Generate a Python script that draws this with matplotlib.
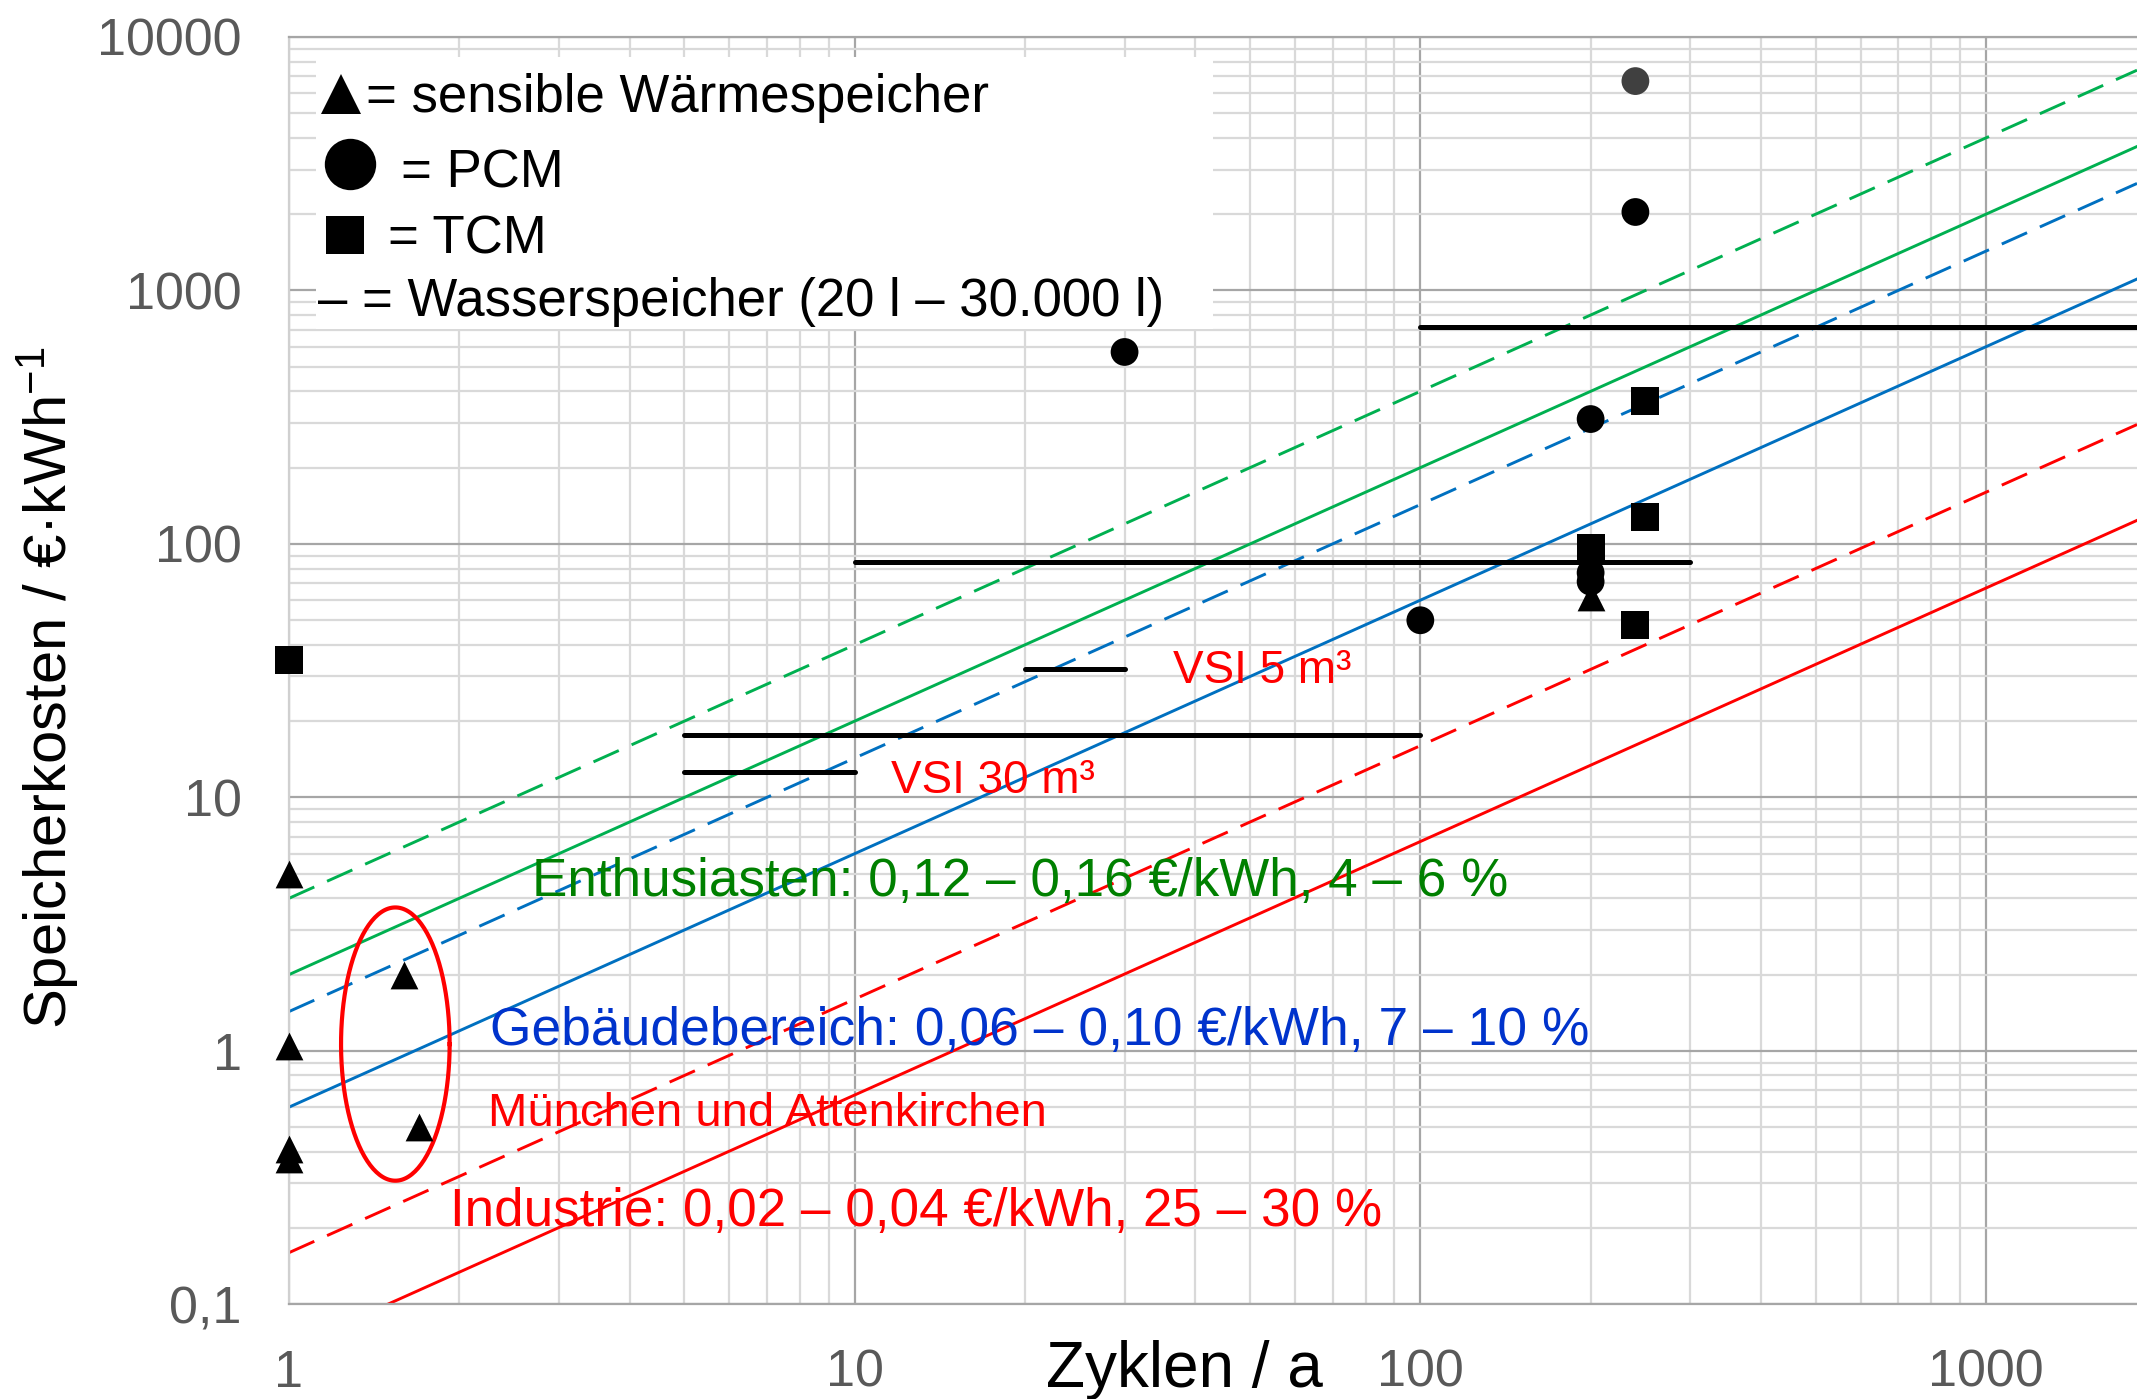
import numpy as np
import matplotlib
matplotlib.use("Agg")
import matplotlib.pyplot as plt
from matplotlib.ticker import LogLocator, FixedLocator, FixedFormatter, NullFormatter
from matplotlib.patches import Rectangle

plt.rcParams['font.family'] = ['Liberation Sans', 'DejaVu Sans']
plt.rcParams['mathtext.default'] = 'regular'

# ---- Daten ----
XMAX = 1849.0

# sensible Wärmespeicher (Dreiecke)
tri_x = [1, 1, 1, 1, 1.6, 1.7, 200]
tri_y = [5.0, 1.05, 0.41, 0.375, 2.0, 0.5, 62]

# PCM (Kreise)
pcm_x = [240, 240, 30, 200, 100, 200, 200]
pcm_y = [6700, 2040, 572, 311, 50, 77, 71]
pcm_c = ['#404040', 'black', 'black', 'black', 'black', 'black', 'black']

# TCM (Quadrate)
tcm_x = [1, 250, 250, 200, 240]
tcm_y = [35, 366, 128, 96, 48]

# Wasserspeicher (horizontale Linien)
ws_x0 = [100, 10, 20, 5, 5]
ws_x1 = [2000, 300, 30, 100, 10]
ws_y = [718, 85, 32, 17.7, 12.6]

# Kostenlinien: Wert bei 1 Zyklus
cost_a = [4.0, 2.0, 1.43, 0.6, 0.16, 0.067]
cost_col = ['#00B050', '#00B050', '#0070C0', '#0070C0', '#FF0000', '#FF0000']
cost_ls = ['--', '-', '--', '-', '--', '-']

xticks = [1, 10, 100, 1000]
xtick_labels = ['1', '10', '100', '1000']
yticks = [0.1, 1, 10, 100, 1000, 10000]
ytick_labels = ['0,1', '1', '10', '100', '1000', '10000']

W, H = 2137, 1399
fig = plt.figure(figsize=(W / 100, H / 100), dpi=100)
ax = fig.add_axes([289 / W, 1 - 1304.4 / H, 1848 / W, 1267.4 / H])
ax.set_xscale('log')
ax.set_yscale('log')
ax.set_xlim(1, XMAX)
ax.set_ylim(0.1, 10000)

ax.xaxis.set_major_locator(FixedLocator(xticks))
ax.xaxis.set_major_formatter(FixedFormatter(xtick_labels))
ax.yaxis.set_major_locator(FixedLocator(yticks))
ax.yaxis.set_major_formatter(FixedFormatter(ytick_labels))
for axis in (ax.xaxis, ax.yaxis):
    axis.set_minor_locator(LogLocator(base=10, subs=np.arange(2, 10)))
    axis.set_minor_formatter(NullFormatter())

ax.set_axisbelow(True)
ax.grid(which='major', color='#a6a6a6', lw=1.6)
ax.grid(which='minor', color='#d9d9d9', lw=1.6)
ax.tick_params(which='both', length=0, labelsize=37.5, labelcolor='#595959')
ax.tick_params(axis='y', pad=34)
ax.tick_params(axis='x', pad=32)
for s in ['top', 'bottom']:
    ax.spines[s].set_color('#a6a6a6')
    ax.spines[s].set_linewidth(1.6)
ax.spines['left'].set_color('#d0d0d0')
ax.spines['left'].set_linewidth(1.6)
ax.spines['right'].set_visible(False)

# Legendenkasten
ax.add_patch(Rectangle((0.0146, 0.770), 0.4854, 0.214, transform=ax.transAxes,
                       facecolor='white', edgecolor='none', zorder=1))

# Kostenlinien
for a, c, ls in zip(cost_a, cost_col, cost_ls):
    if ls == '--':
        ax.plot([1, XMAX], [a, a * XMAX], color=c, lw=2.1, linestyle=(0, (9.5, 4.8)), zorder=2)
    else:
        ax.plot([1, XMAX], [a, a * XMAX], color=c, lw=2.1, zorder=2)

# Wasserspeicher
for x0, x1, y in zip(ws_x0, ws_x1, ws_y):
    ax.plot([x0, x1], [y, y], color='black', lw=3.6, solid_capstyle='round', zorder=3)

# Punkte
ax.scatter(tri_x, tri_y, marker='^', s=20 ** 2, color='black', zorder=4, linewidths=0, clip_on=False)
ax.scatter(pcm_x, pcm_y, marker='o', s=20 ** 2, c=pcm_c, zorder=4, linewidths=0, clip_on=False)
ax.scatter(tcm_x, tcm_y, marker='s', s=20 ** 2, color='black', zorder=4, linewidths=0, clip_on=False)

# Ellipse um München und Attenkirchen (in log-Koordinaten)
t = np.linspace(0, 2 * np.pi, 200)
ex = 10 ** (0.188 + 0.096 * np.cos(t))
ey = 10 ** (0.027 + 0.539 * np.sin(t))
ax.plot(ex, ey, color='#FF0000', lw=3, zorder=3)

# Beschriftungen
ax.text(2.685, 4.1, 'Enthusiasten: 0,12 – 0,16 €/kWh, 4 – 6 %', color='#008000',
        fontsize=38.2, va='baseline', zorder=5)
ax.text(2.27, 1.06, 'Gebäudebereich: 0,06 – 0,10 €/kWh, 7 – 10 %', color='#0033CC',
        fontsize=38.4, va='baseline', zorder=5)
ax.text(2.25, 0.506, 'München und Attenkirchen', color='#FF0000',
        fontsize=34, va='baseline', zorder=5)
ax.text(1.925, 0.203, 'Industrie: 0,02 – 0,04 €/kWh, 25 – 30 %', color='#FF0000',
        fontsize=38.2, va='baseline', zorder=5)
ax.text(36.6, 28.3, 'VSI 5 m³', color='#FF0000', fontsize=33, va='baseline', zorder=5)
ax.text(11.6, 10.4, 'VSI 30 m³', color='#FF0000', fontsize=33, va='baseline', zorder=5)

# Legende im Kasten
tr = ax.transAxes
ax.plot([0.0281], [0.955], marker='^', ms=29, color='black', transform=tr, zorder=5, mew=0)
ax.text(0.0417, 0.9408, '= sensible Wärmespeicher', fontsize=38, transform=tr, va='baseline', zorder=5)
ax.plot([0.033], [0.900], marker='o', ms=37, color='black', transform=tr, zorder=5, mew=0)
ax.text(0.0606, 0.8809, '= PCM', fontsize=38, transform=tr, va='baseline', zorder=5)
ax.plot([0.0303], [0.8438], marker='s', ms=28, color='black', transform=tr, zorder=5, mew=0)
ax.text(0.0536, 0.8288, '= TCM', fontsize=38, transform=tr, va='baseline', zorder=5)
ax.text(0.0157, 0.7799, '– = Wasserspeicher (20 l – 30.000 l)', fontsize=38, transform=tr,
        va='baseline', zorder=5)

# Achsenbeschriftungen
fig.text(1184 / W, 1 - 1370 / H, 'Zyklen / a', fontsize=46, ha='center', va='center')
fig.text(48 / W, 1 - 688 / H, 'Speicherkosten / €·kWh$^{-1}$', fontsize=43,
         rotation=90, ha='center', va='center')

fig.savefig('out.png', dpi=100)
